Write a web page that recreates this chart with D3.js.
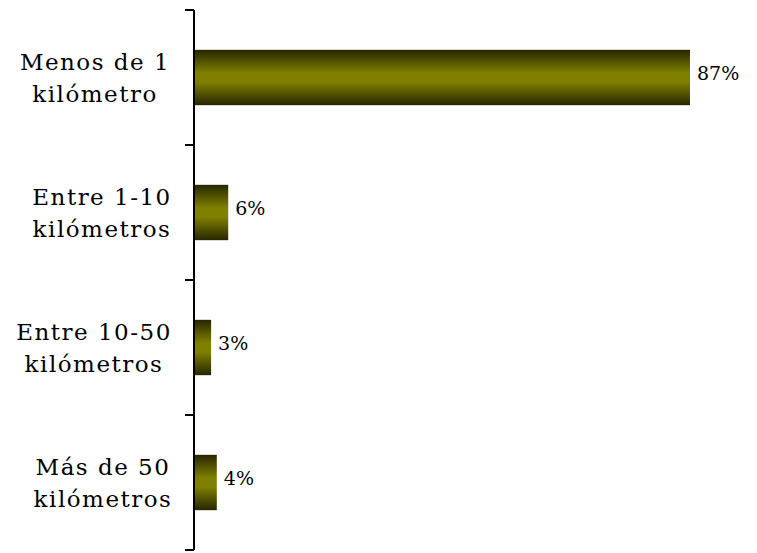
<!DOCTYPE html>
<html><head><meta charset="utf-8">
<script src="https://cdn.jsdelivr.net/npm/d3@7"></script>
<style>body{margin:0;background:#fff}svg{display:block}text{font-family:"DejaVu Serif",serif;fill:#000}</style>
</head><body>
<svg id="c" width="757" height="553"></svg>
<script>
const categories = ["Menos de 1|kilómetro", "Entre 1-10|kilómetros", "Entre 10-50|kilómetros", "Más de 50|kilómetros"];
const values = [87, 6, 3, 4];
const valueLabels = ["87%", "6%", "3%", "4%"];
const labelCenters = [95, 102, 94, 103];

const svg = d3.select("#c");
const axisX = 194;
const y = d3.scaleBand().domain(categories).range([10, 550]).paddingInner(0.59).paddingOuter(0.295);
const x = d3.scaleLinear().domain([0, 87]).range([axisX, 690]);

const defs = svg.append("defs");
const g = defs.append("linearGradient").attr("id","grad").attr("x1",0).attr("y1",0).attr("x2",0).attr("y2",1);
[[0,"#262600"],[0.42,"#808000"],[0.58,"#808000"],[1,"#262600"]].forEach(([o,c])=>g.append("stop").attr("offset",o).attr("stop-color",c));

svg.selectAll("rect.bar").data(values).join("rect").attr("class","bar")
  .attr("x", x(0)).attr("y",(d,i)=>y(categories[i]))
  .attr("width", d=>x(d)-x(0)).attr("height", y.bandwidth())
  .attr("fill","url(#grad)");

// axis
const yb = d3.scaleLinear().domain([0,4]).range([10,550]);
svg.append("line").attr("x1",axisX).attr("x2",axisX).attr("y1",10).attr("y2",550).attr("stroke","#000").attr("stroke-width",2);
svg.selectAll("line.tick").data(d3.range(5)).join("line").attr("class","tick")
  .attr("x1",axisX-9).attr("x2",axisX).attr("y1",d=>yb(d)).attr("y2",d=>yb(d)).attr("stroke","#000").attr("stroke-width",2);

// category labels
const lab = svg.selectAll("text.cat").data(categories).join("text").attr("class","cat")
  .attr("text-anchor","middle").attr("font-size",23).attr("letter-spacing","1.5px")
  .attr("y", d=>y(d)+y.bandwidth()/2);
lab.each(function(d,k){
  const lines = d.split("|");
  const t = d3.select(this);
  lines.forEach((l,i)=>t.append("tspan").attr("x",labelCenters[k]).attr("dy", i===0? "-0.33em":"1.4em").text(l));
});

svg.selectAll("text.val").data(values).join("text").attr("class","val")
  .attr("x", d=>x(d)+7).attr("y",(d,i)=>y(categories[i])+y.bandwidth()/2+2)
  .attr("font-size",19).text((d,i)=>valueLabels[i]);
</script>
</body></html>
